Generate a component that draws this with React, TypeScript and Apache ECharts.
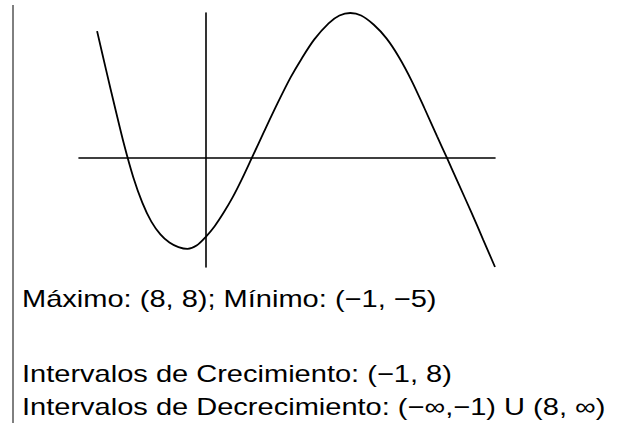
import React, { useEffect, useRef } from "react";
import * as echarts from "echarts";

const curveX = [-6, -5.5, -5, -4.5, -4, -3.5, -3, -2.5, -2, -1.5, -1, -0.5, 0, 0.5, 1, 1.5, 2, 2.55, 3.25, 4, 4.7, 5.3, 6, 6.8, 7.4, 8, 8.6, 9.3, 10, 10.7, 11.4, 12.1, 12.8, 13.35, 14, 14.7, 15.35, 16];
const curveY = [7, 4.85, 2.75, 0.72, -1.05, -2.45, -3.5, -4.2, -4.65, -4.9, -5, -4.82, -4.35, -3.75, -3.0, -2.15, -1.17, 0, 1.5, 3.07, 4.45, 5.47, 6.53, 7.43, 7.86, 8, 7.86, 7.35, 6.6, 5.55, 4.25, 2.75, 1.2, 0, -1.45, -3.0, -4.5, -6];
const xRange = [-7, 16];
const yRange = [-6, 8];
const textLines = [
  "Máximo: (8, 8); Mínimo: (−1, −5)",
  "Intervalos de Crecimiento: (−1, 8)",
  "Intervalos de Decrecimiento: (−∞,−1) U (8, ∞)",
];

export default function App() {
  const ref = useRef<HTMLDivElement>(null);
  useEffect(() => {
    if (!ref.current) return;
    const chart = echarts.init(ref.current, null, { renderer: "svg" });
    const textY = [299, 374, 407];
    chart.setOption({
      animation: false,
      backgroundColor: "#fff",
      grid: { left: 79, right: 139, top: 13, bottom: 160 },
      xAxis: {
        type: "value",
        min: xRange[0],
        max: xRange[1],
        axisLine: { show: true, onZero: true, lineStyle: { color: "#000", width: 1.6 } },
        axisTick: { show: false },
        axisLabel: { show: false },
        splitLine: { show: false },
      },
      yAxis: {
        type: "value",
        min: yRange[0],
        max: yRange[1],
        axisLine: { show: true, onZero: true, lineStyle: { color: "#000", width: 1.6 } },
        axisTick: { show: false },
        axisLabel: { show: false },
        splitLine: { show: false },
      },
      series: [
        {
          type: "line",
          data: curveX.map((x, i) => [x, curveY[i]]),
          smooth: 0.3,
          showSymbol: false,
          symbol: "none",
          lineStyle: { color: "#000", width: 1.8 },
        },
      ],
      graphic: [
        {
          type: "line",
          shape: { x1: 13, y1: 5, x2: 13, y2: 423 },
          style: { stroke: "#000", lineWidth: 1 },
        },
        ...textLines.map((t, i) => ({
          type: "text",
          x: 22,
          y: textY[i],
          scaleX: 1.21,
          style: {
            text: t,
            fill: "#000",
            font: "24px 'Liberation Sans', Arial, sans-serif",
            textVerticalAlign: "middle",
          },
        })),
      ],
    });
    return () => chart.dispose();
  }, []);
  return (
    <div
      ref={ref}
      style={{ position: "absolute", left: 0, top: 0, width: 634, height: 427 }}
    />
  );
}
